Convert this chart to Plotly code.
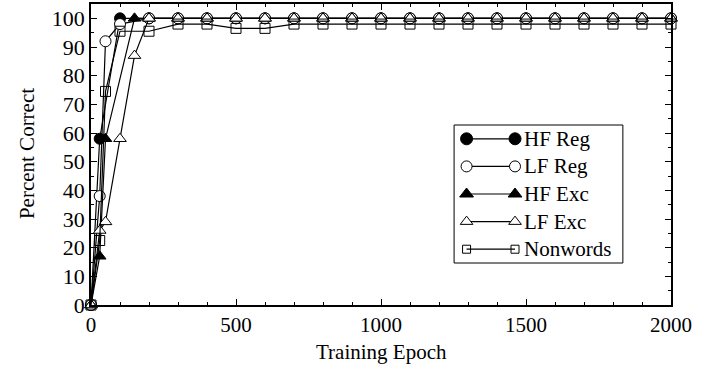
import plotly.graph_objects as go

# Training curves: percent correct by training epoch for each stimulus class
late_epochs = list(range(300, 2001, 100))

hf_reg_x = [0, 30, 100, 200] + late_epochs
hf_reg_y = [0, 58, 100, 100] + [100] * len(late_epochs)

lf_reg_x = [0, 30, 50, 100, 200] + late_epochs
lf_reg_y = [0, 38, 92, 98, 100] + [100] * len(late_epochs)

hf_exc_x = [0, 30, 50, 150, 200] + late_epochs
hf_exc_y = [0, 17, 58, 100, 100] + [100] * len(late_epochs)

lf_exc_x = [0, 30, 50, 100, 150, 200] + late_epochs
lf_exc_y = [0, 26, 29, 58, 87, 100] + [100] * len(late_epochs)

nonword_x = [0, 30, 50, 100, 200] + late_epochs
nonword_y = [0, 22.5, 74.5, 95.5, 95.5,
             98, 98, 96.5, 96.5, 98, 98, 98, 98, 98, 98,
             98, 98, 98, 98, 98, 98, 98, 98]

series_names = ["HF Reg", "LF Reg", "HF Exc", "LF Exc", "Nonwords"]

FONT = "Liberation Serif, Times New Roman, serif"

styles = [
    dict(symbol="circle", size=11, color="black", line=dict(color="black", width=1)),
    dict(symbol="circle", size=11, color="white", line=dict(color="black", width=1)),
    dict(symbol="triangle-up", size=11, color="black", line=dict(color="black", width=1)),
    dict(symbol="triangle-up", size=11, color="white", line=dict(color="black", width=1)),
    dict(symbol="square-open", size=10, color="black", line=dict(color="black", width=1)),
]
legend_styles = [
    dict(symbol="circle", size=12, color="black", line=dict(color="black", width=1)),
    dict(symbol="circle", size=11, color="white", line=dict(color="black", width=1)),
    dict(symbol="triangle-up", size=12, color="black", line=dict(color="black", width=1)),
    dict(symbol="triangle-up", size=11, color="white", line=dict(color="black", width=1)),
    dict(symbol="square-open", size=8, color="black", line=dict(color="black", width=1)),
]

xs = [hf_reg_x, lf_reg_x, hf_exc_x, lf_exc_x, nonword_x]
ys = [hf_reg_y, lf_reg_y, hf_exc_y, lf_exc_y, nonword_y]

fig = go.Figure()
for name, x, y, st in zip(series_names, xs, ys, styles):
    fig.add_trace(go.Scatter(
        x=x, y=y, mode="lines+markers", name=name,
        line=dict(color="black", width=1.2),
        marker=st, cliponaxis=False, showlegend=False,
    ))

# Boxed key drawn on its own small axes: marker-line-marker sample plus label
key_x = [0.074, 0.361]
key_text_x = 0.405
for i, (name, st) in enumerate(zip(series_names, legend_styles)):
    row = (i + 0.5) / len(series_names)
    fig.add_trace(go.Scatter(
        x=key_x, y=[row, row], mode="lines+markers",
        line=dict(color="black", width=1.2), marker=st,
        xaxis="x2", yaxis="y2", showlegend=False, hoverinfo="skip",
    ))
    fig.add_annotation(
        x=key_text_x, y=row, xref="x2", yref="y2", text=name,
        showarrow=False, xanchor="left", yanchor="middle",
        font=dict(family=FONT, size=21, color="black"),
    )

key_box = [0.626, 0.917, 0.1395, 0.598]
fig.add_shape(type="rect", xref="paper", yref="paper",
              x0=key_box[0], x1=key_box[1], y0=key_box[2], y1=key_box[3],
              line=dict(color="black", width=1), fillcolor="rgba(0,0,0,0)")

# Axis titles placed as paper-anchored text
fig.add_annotation(x=0.5, y=-0.156, xref="paper", yref="paper",
                   text="Training Epoch", showarrow=False,
                   xanchor="center", yanchor="middle",
                   font=dict(family=FONT, size=21, color="black"))
fig.add_annotation(x=-0.110, y=0.502, xref="paper", yref="paper",
                   text="Percent Correct", showarrow=False, textangle=-90,
                   xanchor="center", yanchor="middle",
                   font=dict(family=FONT, size=21, color="black"))

axis_common = dict(
    showline=True, linecolor="black", linewidth=1.5, mirror="ticks",
    ticks="inside", tickcolor="black", tickwidth=1, showgrid=False, zeroline=False,
    automargin=False,
)

fig.update_layout(
    width=702, height=366,
    margin=dict(l=91, r=31, t=4, b=61),
    paper_bgcolor="white", plot_bgcolor="white",
    font=dict(family=FONT, size=21, color="black"),
    xaxis=dict(
        range=[0, 2000], tick0=0, dtick=500, ticklen=6,
        minor=dict(dtick=100, ticks="inside", ticklen=3, tickcolor="black"),
        tickfont=dict(family=FONT, size=21, color="black"),
        **axis_common,
    ),
    yaxis=dict(
        range=[0, 105], tick0=0, dtick=10, ticklen=6,
        minor=dict(dtick=5, ticks="inside", ticklen=3, tickcolor="black"),
        tickfont=dict(family=FONT, size=22, color="black"),
        **axis_common,
    ),
    xaxis2=dict(domain=[key_box[0], key_box[1]], range=[0, 1], anchor="y2",
                visible=False, fixedrange=True),
    yaxis2=dict(domain=[key_box[2], key_box[3]], range=[1, 0], anchor="x2",
                visible=False, fixedrange=True),
)

fig.write_html("out.html")
